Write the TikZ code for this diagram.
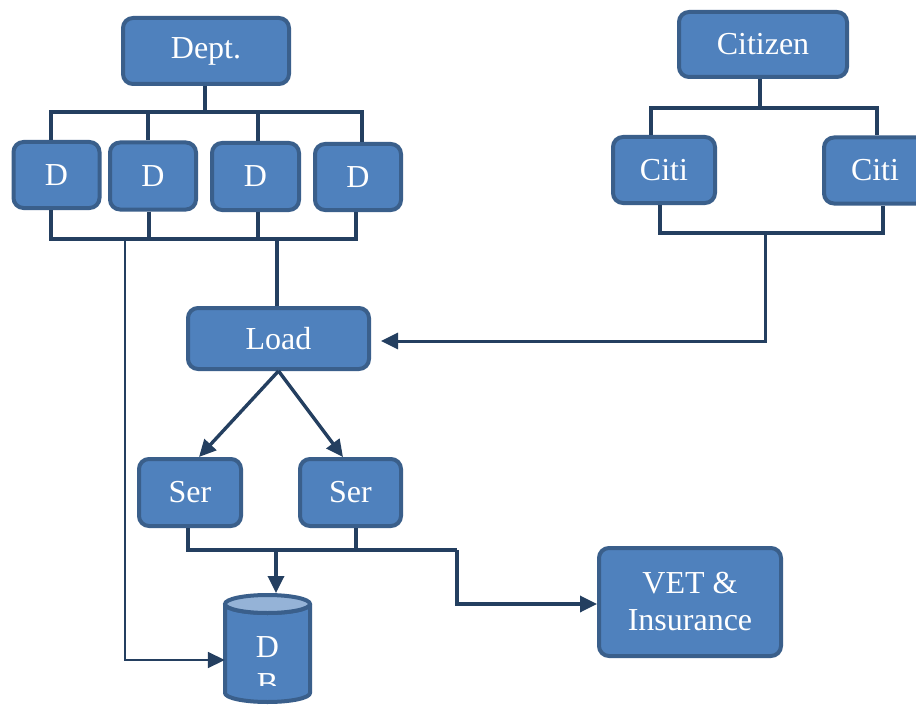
\documentclass[tikz,border=0pt]{standalone}
\usepackage{fontspec}
\setmainfont{Liberation Serif}
\usetikzlibrary{arrows.meta,calc}
\definecolor{boxfill}{HTML}{4F81BD}
\definecolor{boxline}{HTML}{3A5F8B}
\definecolor{conncol}{HTML}{243F60}
\definecolor{dbtop}{HTML}{95B3D7}
\tikzset{
  box/.style={draw=boxline, fill=boxfill, line width=4pt, rounded corners=10pt,
    text=white, inner sep=0pt, font=\fontsize{32}{37}\selectfont, align=center},
  conn/.style={draw=conncol, line width=3.6pt},
  thinconn/.style={draw=conncol, line width=1.8pt},
  arr/.style={-{Triangle[length=17pt,width=16pt]}},
}
\begin{document}
\begin{tikzpicture}[x=1pt,y=-1pt]
\clip (0,0) rectangle (916,706);
\fill[white] (0,0) rectangle (916,706);
% boxes
\node[box, minimum width=166, minimum height=66] (dept) at (206,51) {Dept.};
\node[box, minimum width=86, minimum height=66] (d1) at (56.5,175) {D};
\node[box, minimum width=86, minimum height=67] (d2) at (153,176) {D};
\node[box, minimum width=87, minimum height=67] (d3) at (255.5,176.5) {D};
\node[box, minimum width=86, minimum height=66] (d4) at (358,177) {D};
\node[box, minimum width=168, minimum height=65] (citizen) at (763,44.5) {Citizen};
\node[box, minimum width=102, minimum height=66] (citi1) at (664,170) {Citi};
\node[box, minimum width=102, minimum height=66] (citi2) at (875,170.5) {Citi};
\node[box, minimum width=181, minimum height=61] (load) at (278.5,338.5) {Load};
\node[box, minimum width=102, minimum height=67] (ser1) at (190,492.5) {Ser};
\node[box, minimum width=101, minimum height=67] (ser2) at (350.5,492.5) {Ser};
\node[box, minimum width=182, minimum height=108] (vet) at (690,602) {VET \&\\Insurance};
% database cylinder
\draw[draw=boxline, fill=boxfill, line width=4pt, line join=round]
  (225,604) -- (225,693) arc[start angle=180, end angle=0, x radius=42.5, y radius=9]
  -- (310,604) arc[start angle=0, end angle=180, x radius=42.5, y radius=9] -- cycle;
\draw[draw=boxline, fill=dbtop, line width=4pt] (267.5,604) ellipse[x radius=42.5, y radius=9];
\node[inner sep=0pt, minimum width=85, minimum height=84] (db) at (267.5,660) {};
\coordinate (dbin) at (276,593);
\begin{scope}
\clip (225,615) rectangle (310,685);
\node[text=white, font=\fontsize{32}{37}\selectfont, inner sep=0pt] (dbD) at (267.5,647) {D};
\node[text=white, font=\fontsize{32}{37}\selectfont, inner sep=0pt] (dbB) at (267.5,684) {B};
\end{scope}
% Dept bus
\draw[conn] (205,0 |- dept.south) -- (205,112);
\draw[conn] (51,0 |- d1.north) -- (51,112) -- (362,112) -- (362,0 |- d4.north);
\draw[conn] (148,112) -- (148,0 |- d2.north);
\draw[conn] (258,112) -- (258,0 |- d3.north);
\draw[conn] (51,0 |- d1.south) -- (51,239) -- (356,239) -- (356,0 |- d4.south);
\draw[conn] (149,0 |- d2.south) -- (149,239);
\draw[conn] (258,0 |- d3.south) -- (258,239);
\draw[conn] (277,239) -- (277,0 |- load.north);
\draw[thinconn, arr] (125,239) -- (125,660) -- (db.west);
% Citizen bus
\draw[conn] (760,0 |- citizen.south) -- (760,108);
\draw[conn] (651,0 |- citi1.north) -- (651,108) -- (877,108) -- (877,0 |- citi2.north);
\draw[conn] (660,0 |- citi1.south) -- (660,233) -- (883,233) -- (883,0 |- citi2.south);
\draw[thinconn, line width=3pt, arr, shorten >=10pt] (765,233) -- (765,341) -- (load.east |- 0,341);
% Load to servers
\draw[conn, line width=3.4pt, arr] (load.south) -- (199,0 |- ser1.north);
\draw[conn, line width=3.4pt, arr] (load.south) -- (343,0 |- ser2.north);
% server bus
\draw[conn, line width=3.4pt] (188,0 |- ser1.south) -- (188,550) -- (457,550);
\draw[conn, line width=3.4pt] (356,0 |- ser2.south) -- (356,550);
\draw[conn, line width=3.4pt, arr] (457,550) -- (457,604) -- (vet.west |- 0,604);
\draw[conn, line width=3.4pt, arr] (276,550) -- (dbin);
\end{tikzpicture}
\end{document}
